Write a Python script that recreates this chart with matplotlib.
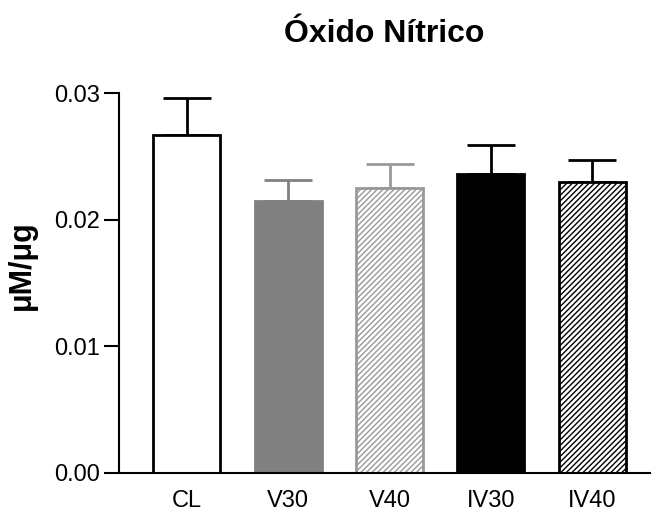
import matplotlib
matplotlib.use('Agg')
import matplotlib.pyplot as plt
import numpy as np

plt.rcParams['font.family'] = ['Liberation Sans', 'DejaVu Sans']
plt.rcParams['hatch.linewidth'] = 1.0

groups = ['CL', 'V30', 'V40', 'IV30', 'IV40']
means = [0.0267, 0.0215, 0.0225, 0.0236, 0.0230]
errs = [0.0029, 0.0016, 0.0019, 0.0023, 0.0017]

faces = ['white', '#808080', 'white', 'black', 'white']
edges = ['black', '#808080', '#999999', 'black', 'black']
hatches = [None, None, '//////', None, '//////']
errcols = ['black', '#808080', '#999999', 'black', 'black']

fig = plt.figure(figsize=(6.52, 5.11), dpi=100)
ax = fig.add_axes([0.1825, 0.0744, 0.8145, 0.7436])

x = np.arange(len(groups))
for i in range(len(groups)):
    ax.bar(x[i], means[i], width=0.66, color=faces[i], edgecolor=edges[i],
           hatch=hatches[i], linewidth=2, zorder=2)
    ax.errorbar(x[i], means[i], yerr=[[0], [errs[i]]], fmt='none',
                ecolor=errcols[i], elinewidth=2, capsize=17, capthick=2, zorder=1)

ax.set_xlim(-0.67, 4.57)
ax.set_ylim(0, 0.03)
ax.set_yticks([0, 0.01, 0.02, 0.03])
ax.set_yticklabels(['0.00', '0.01', '0.02', '0.03'])
ax.set_xticks(x)
ax.set_xticklabels(groups)
ax.tick_params(axis='y', length=11, width=1.5, labelsize=17, direction='out', pad=3)
ax.tick_params(axis='x', length=0, labelsize=17, pad=12)
ax.spines['top'].set_visible(False)
ax.spines['right'].set_visible(False)
ax.spines['left'].set_linewidth(1.5)
ax.spines['bottom'].set_linewidth(1.5)
ax.set_ylabel('μM/μg', fontsize=22, fontweight='bold')
ax.yaxis.set_label_coords(-0.155, 0.546)
fig.suptitle('Óxido Nítrico', fontsize=23, fontweight='bold', x=0.59, y=0.962)

fig.savefig('out.png', dpi=100)
